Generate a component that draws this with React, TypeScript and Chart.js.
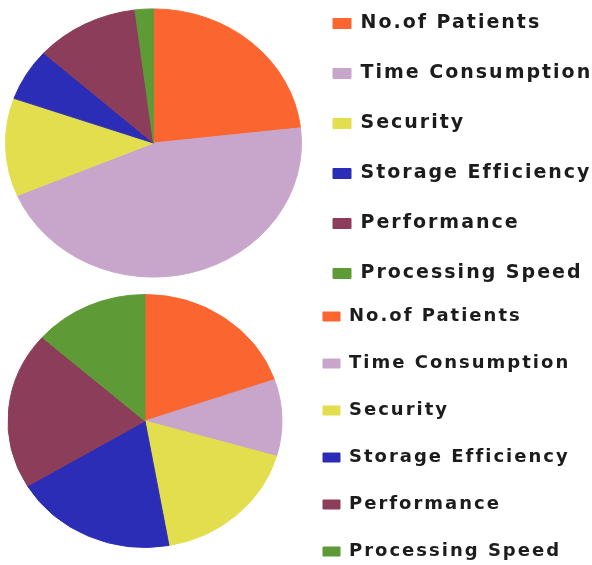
import React, { useEffect, useRef } from 'react';
import { Chart, registerables } from 'chart.js';

Chart.register(...registerables);

const categories = ['No.of Patients', 'Time Consumption', 'Security', 'Storage Efficiency', 'Performance', 'Processing Speed'];
const topValues = [23.2, 45.4, 11.8, 6.3, 11.3, 2.0];
const bottomValues = [19.7, 9.8, 17.7, 19.2, 20.1, 13.5];
const sliceColors = ['#FA6530', '#C8A6CB', '#E3DE4E', '#2B2DB6', '#8C3D59', '#5E9A36'];

const letterSpacingPlugin = {
  id: 'letterSpacing',
  beforeLayout(chart: any, _a: any, opts: any) {
    chart.ctx.letterSpacing = opts.value || '0px';
  },
  beforeDraw(chart: any, _a: any, opts: any) {
    chart.ctx.letterSpacing = opts.value || '0px';
  },
};

const squashPlugin = {
  id: 'squash',
  beforeDatasetsDraw(chart: any, _a: any, opts: any) {
    const arc = chart.getDatasetMeta(0).data[0];
    const ctx = chart.ctx;
    ctx.save();
    ctx.translate(0, arc.y);
    ctx.scale(1, opts.sy || 1);
    ctx.translate(0, -arc.y);
  },
  afterDatasetsDraw(chart: any) {
    chart.ctx.restore();
  },
};

type PieProps = {
  values: number[];
  left: number;
  top: number;
  width: number;
  height: number;
  radius: number;
  sy: number;
  fontSize: number;
  spacing: string;
  labelPadding: number;
  boxWidth: number;
  boxHeight: number;
  legendMaxWidth: number;
  pad: { left: number; right: number; top: number; bottom: number };
  titlePad: number;
};

function PieChart(p: PieProps) {
  const ref = useRef<HTMLCanvasElement | null>(null);
  useEffect(() => {
    if (!ref.current) return;
    const chart = new Chart(ref.current, {
      type: 'pie',
      data: {
        labels: categories,
        datasets: [
          {
            data: p.values,
            backgroundColor: sliceColors,
            borderColor: sliceColors,
            borderWidth: 1,
            radius: p.radius,
          } as any,
        ],
      },
      options: {
        animation: false,
        responsive: false,
        devicePixelRatio: 1,
        layout: { padding: p.pad },
        plugins: {
          tooltip: { enabled: false },
          legend: {
            position: 'right',
            align: 'center',
            maxWidth: p.legendMaxWidth,
            title: {
              display: true,
              text: ' ',
              font: { size: 1, lineHeight: 1 },
              padding: { top: p.titlePad, bottom: 0 },
            },
            labels: {
              boxWidth: p.boxWidth,
              boxHeight: p.boxHeight,
              padding: p.labelPadding,
              color: '#1c1c1c',
              font: { family: "'DejaVu Sans', sans-serif", size: p.fontSize, weight: 'bold' },
            },
          },
          letterSpacing: { value: p.spacing },
          squash: { sy: p.sy },
        } as any,
      },
      plugins: [letterSpacingPlugin, squashPlugin],
    });
    return () => chart.destroy();
  }, []);
  return (
    <canvas
      ref={ref}
      width={p.width}
      height={p.height}
      style={{ position: 'absolute', left: p.left, top: p.top, width: p.width, height: p.height }}
    />
  );
}

export default function App() {
  return (
    <div style={{ position: 'absolute', left: 0, top: 0, width: 592, height: 565, overflow: 'hidden', background: '#fff' }}>
      <PieChart
        values={topValues}
        left={0}
        top={-32}
        width={592}
        height={350}
        radius={148}
        sy={0.906}
        fontSize={19}
        spacing="2px"
        labelPadding={31}
        boxWidth={18}
        boxHeight={10}
        legendMaxWidth={290}
        pad={{ left: 5, right: 0, top: 0, bottom: 0 }}
        titlePad={10}
      />
      <PieChart
        values={bottomValues}
        left={-4}
        top={251}
        width={596}
        height={340}
        radius={137}
        sy={0.923}
        fontSize={18}
        spacing="2px"
        labelPadding={29}
        boxWidth={17}
        boxHeight={9}
        legendMaxWidth={280}
        pad={{ left: 0, right: 18, top: 0, bottom: 0 }}
        titlePad={25}
      />
    </div>
  );
}
